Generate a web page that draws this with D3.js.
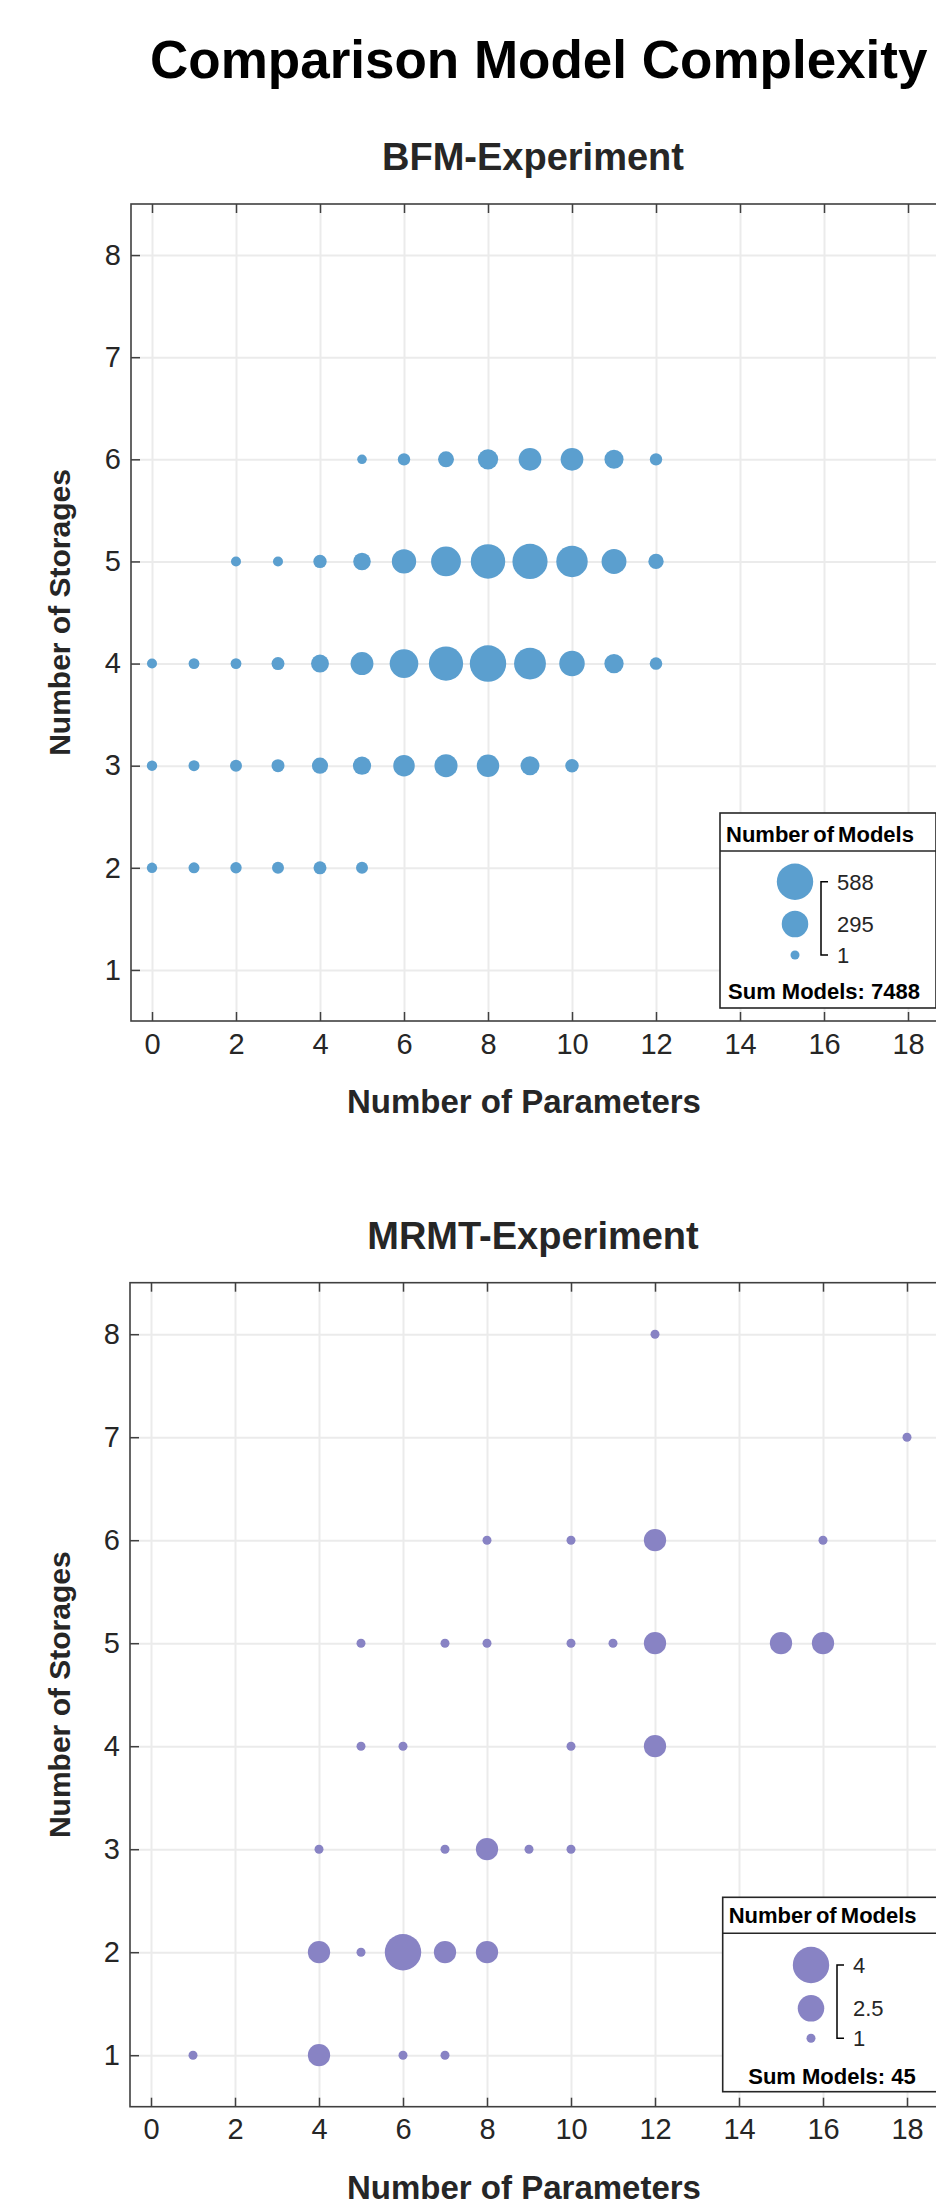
<!DOCTYPE html>
<html>
<head>
<meta charset="utf-8">
<script src="https://cdn.jsdelivr.net/npm/d3@7"></script>
<style>
  body { margin: 0; background: #fff; }
  svg { display: block; font-family: "Liberation Sans", Arial, Helvetica, sans-serif; }
  .grid line { stroke: #ebebeb; stroke-width: 2; }
  .grid path { display: none; }
  .axis path { display: none; }
  .axis line { stroke: #404040; stroke-width: 1.5; }
  .axis text { font-size: 29px; fill: #262626; }
</style>
</head>
<body>
<div id="chart"></div>
<script>
var mainTitle = "Comparison Model Complexity";
var xLabel = "Number of Parameters";
var yLabel = "Number of Storages";
var xTicks = [0, 2, 4, 6, 8, 10, 12, 14, 16, 18];
var yTicks = [1, 2, 3, 4, 5, 6, 7, 8];

// BFM experiment: one entry per bubble
var bfmParams = [5, 6, 7, 8, 9, 10, 11, 12,
  2, 3, 4, 5, 6, 7, 8, 9, 10, 11, 12,
  0, 1, 2, 3, 4, 5, 6, 7, 8, 9, 10, 11, 12,
  0, 1, 2, 3, 4, 5, 6, 7, 8, 9, 10,
  0, 1, 2, 3, 4, 5];
var bfmStorages = [6, 6, 6, 6, 6, 6, 6, 6,
  5, 5, 5, 5, 5, 5, 5, 5, 5, 5, 5,
  4, 4, 4, 4, 4, 4, 4, 4, 4, 4, 4, 4, 4,
  3, 3, 3, 3, 3, 3, 3, 3, 3, 3, 3,
  2, 2, 2, 2, 2, 2];
var bfmModels = [6, 35, 83, 157, 206, 206, 135, 35,
  10, 10, 47, 108, 242, 383, 522, 545, 429, 255, 74,
  10, 18, 18, 42, 114, 210, 350, 515, 588, 441, 269, 139, 37,
  14, 20, 30, 42, 86, 120, 181, 214, 201, 132, 49,
  14, 20, 24, 30, 42, 30];
var bfmLegend = [588, 295, 1];

// MRMT experiment
var mrmtParams = [12, 18, 8, 10, 12, 16, 5, 7, 8, 10, 11, 12, 15, 16,
  5, 6, 10, 12, 4, 7, 8, 9, 10, 4, 5, 6, 7, 8, 1, 4, 6, 7];
var mrmtStorages = [8, 7, 6, 6, 6, 6, 5, 5, 5, 5, 5, 5, 5, 5,
  4, 4, 4, 4, 3, 3, 3, 3, 3, 2, 2, 2, 2, 2, 1, 1, 1, 1];
var mrmtModels = [1, 1, 1, 1, 2, 1, 1, 1, 1, 1, 1, 2, 2, 2,
  1, 1, 1, 2, 1, 1, 2, 1, 1, 2, 1, 4, 2, 2, 1, 2, 1, 1];
var mrmtLegend = [4, 2.5, 1];

var svg = d3.select("#chart").append("svg")
  .attr("width", 936)
  .attr("height", 2205);

svg.append("text")
  .attr("x", 150)
  .attr("y", 78)
  .attr("font-size", 53)
  .attr("font-weight", "bold")
  .attr("fill", "#000")
  .text(mainTitle);

function drawPanel(p) {
  var x = d3.scaleLinear().domain([-0.5, 19]).range([p.left, p.left + 19.5 * 42]);
  var y = d3.scaleLinear().domain([0.5, 8.5]).range([p.bottom, p.top]);
  var r = d3.scaleRadial().domain([1, d3.max(p.models)]).range([4.5, 18.2]);
  var h = p.bottom - p.top;

  var g = svg.append("g");

  // white plot area
  g.append("rect")
    .attr("x", x.range()[0]).attr("y", p.top)
    .attr("width", x.range()[1] - x.range()[0]).attr("height", h)
    .attr("fill", "#fff");

  // grid lines
  g.append("g").attr("class", "grid")
    .attr("transform", "translate(0," + p.bottom + ")")
    .call(d3.axisBottom(x).tickValues(xTicks).tickSize(-h).tickFormat(""));
  g.append("g").attr("class", "grid")
    .attr("transform", "translate(" + x.range()[0] + ",0)")
    .call(d3.axisLeft(y).tickValues(yTicks).tickSize(-(x.range()[1] - x.range()[0])).tickFormat(""));

  // bubbles
  var data = p.params.map(function(d, i) {
    return { p: d, s: p.storages[i], n: p.models[i] };
  });
  g.selectAll(".dot")
    .data(data)
    .enter().append("circle")
    .attr("class", "dot")
    .attr("cx", function(d) { return x(d.p); })
    .attr("cy", function(d) { return y(d.s); })
    .attr("r", function(d) { return r(d.n); })
    .attr("fill", p.color);

  // axes with inward ticks
  g.append("g").attr("class", "axis")
    .attr("transform", "translate(0," + p.bottom + ")")
    .call(d3.axisBottom(x).tickValues(xTicks).tickSize(-9).tickPadding(12));
  g.append("g").attr("class", "axis")
    .attr("transform", "translate(0," + p.top + ")")
    .call(d3.axisTop(x).tickValues(xTicks).tickSize(-9).tickFormat(""));
  g.append("g").attr("class", "axis")
    .attr("transform", "translate(" + x.range()[0] + ",0)")
    .call(d3.axisLeft(y).tickValues(yTicks).tickSize(-9).tickPadding(10));

  // frame
  g.append("rect")
    .attr("x", x.range()[0]).attr("y", p.top)
    .attr("width", x.range()[1] - x.range()[0]).attr("height", h)
    .attr("fill", "none")
    .attr("stroke", "#404040")
    .attr("stroke-width", 1.6);

  // titles and labels
  g.append("text")
    .attr("x", 533).attr("y", p.titleY)
    .attr("text-anchor", "middle")
    .attr("font-size", 38).attr("font-weight", "bold")
    .attr("fill", "#262626")
    .text(p.name);
  g.append("text")
    .attr("x", 524).attr("y", p.bottom + 92)
    .attr("text-anchor", "middle")
    .attr("font-size", 33).attr("font-weight", "bold")
    .attr("fill", "#262626")
    .text(xLabel);
  g.append("text")
    .attr("transform", "translate(70," + (p.top + h / 2) + ") rotate(-90)")
    .attr("text-anchor", "middle")
    .attr("font-size", 30).attr("font-weight", "bold")
    .attr("fill", "#262626")
    .text(yLabel);

  // legend
  var L = p.lg;
  var lg = g.append("g").attr("transform", "translate(" + L.x + "," + L.y + ")");
  lg.append("rect")
    .attr("width", L.w).attr("height", L.h)
    .attr("fill", "#fff").attr("stroke", "#262626").attr("stroke-width", 1.6);
  lg.append("line")
    .attr("x1", 0).attr("x2", L.w).attr("y1", L.sep).attr("y2", L.sep)
    .attr("stroke", "#262626").attr("stroke-width", 1.6);
  lg.append("text")
    .attr("x", 6).attr("y", L.headY)
    .attr("font-size", 22).attr("font-weight", "bold")
    .attr("word-spacing", -2)
    .attr("fill", "#000")
    .text("Number of Models");

  var rowsY = [L.bigY, L.medY, L.smallY];
  lg.selectAll(".lc")
    .data(p.legend)
    .enter().append("circle")
    .attr("class", "lc")
    .attr("cx", L.cx)
    .attr("cy", function(d, i) { return rowsY[i]; })
    .attr("r", function(d) { return r(d); })
    .attr("fill", p.color);
  var bx = L.cx + 26;
  lg.append("path")
    .attr("d", "M" + (bx + 7) + "," + L.bigY + "H" + bx + "V" + L.smallY + "H" + (bx + 7))
    .attr("fill", "none").attr("stroke", "#000").attr("stroke-width", 1.5);
  lg.selectAll(".lt")
    .data(p.legend)
    .enter().append("text")
    .attr("class", "lt")
    .attr("x", L.cx + 42)
    .attr("y", function(d, i) { return rowsY[i]; })
    .attr("dy", "0.36em")
    .attr("font-size", 22)
    .attr("fill", "#262626")
    .text(function(d) { return d; });
  lg.append("text")
    .attr("x", L.sumX).attr("y", L.sumY)
    .attr("text-anchor", "middle")
    .attr("font-size", 22).attr("font-weight", "bold")
    .attr("fill", "#000")
    .text("Sum Models: " + d3.sum(p.models));
}

drawPanel({
  name: "BFM-Experiment",
  params: bfmParams, storages: bfmStorages, models: bfmModels, legend: bfmLegend,
  color: "#5b9fcf",
  left: 131, top: 204, bottom: 1021, titleY: 170,
  lg: { x: 720, y: 813, w: 216, h: 195, sep: 38, headY: 28.7, cx: 75,
        bigY: 68.7, medY: 111, smallY: 142, sumX: 104, sumY: 186 }
});

drawPanel({
  name: "MRMT-Experiment",
  params: mrmtParams, storages: mrmtStorages, models: mrmtModels, legend: mrmtLegend,
  color: "#8883c4",
  left: 130, top: 1282.7, bottom: 2106.7, titleY: 1249,
  lg: { x: 722.7, y: 1897.3, w: 230, h: 194.4, sep: 36, headY: 26, cx: 88.3,
        bigY: 67.7, medY: 111, smallY: 141, sumX: 109.3, sumY: 186.7 }
});
</script>
</body>
</html>
